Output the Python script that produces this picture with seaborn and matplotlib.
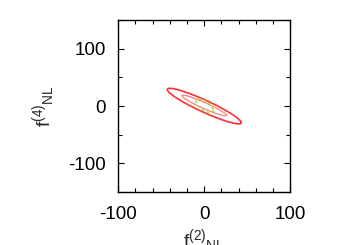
import numpy as np
import pandas as pd
import matplotlib
matplotlib.use("Agg")
import matplotlib.pyplot as plt
import seaborn as sns
from matplotlib.ticker import MultipleLocator

# Contour data: centre, 1-D extents and correlation of each confidence ellipse
contours = ["outer", "middle", "inner"]
center_x = [0.0, 0.0, 0.4]
center_y = [0.0, 1.0, 0.5]
extent_x = [43.0, 26.0, 10.0]
extent_y = [31.0, 18.0, 12.0]
corr = [-0.93, -0.95, -0.65]

xticks = [-100, 0, 100]
yticks = [-100, 0, 100]
xlabel = r"f$^{(2)}{}_{NL}$"
ylabel = r"f$^{(4)}{}_{NL}$"

sns.set_theme(style="ticks")
plt.rcParams["font.family"] = ["Liberation Sans", "DejaVu Sans"]
plt.rcParams["mathtext.default"] = "regular"
plt.rcParams["axes.unicode_minus"] = False

t = np.linspace(0, 2 * np.pi, 400)
frames = []
for name, cx, cy, sx, sy, r in zip(contours, center_x, center_y, extent_x, extent_y, corr):
    frames.append(pd.DataFrame({
        "x": cx + sx * np.cos(t),
        "y": cy + sy * (r * np.cos(t) + np.sqrt(1 - r * r) * np.sin(t)),
        "contour": name,
        "order": np.arange(len(t)),
    }))
df = pd.concat(frames, ignore_index=True)

fig = plt.figure(figsize=(3.5, 2.45), dpi=100)
ax = fig.add_axes([0.338, 0.216, 0.491, 0.702])

styles = {
    "outer": dict(color="#ff3030", lw=1.2, ls="-"),
    "middle": dict(color="#ff8080", lw=0.9, ls="-"),
    "inner": dict(color="#90e840", lw=1.0, ls=(0, (2.5, 1.5))),
}
for name in contours:
    sub = df[df["contour"] == name]
    st = styles[name]
    sns.lineplot(data=sub, x="x", y="y", sort=False, estimator=None, ax=ax,
                 color=st["color"], linewidth=st["lw"], linestyle=st["ls"])

ax.set_xlim(-100, 100)
ax.set_ylim(-150, 150)
ax.set_xticks(xticks)
ax.set_yticks(yticks)
ax.xaxis.set_minor_locator(MultipleLocator(20))
ax.yaxis.set_minor_locator(MultipleLocator(50))
ax.tick_params(which="both", direction="in", top=True, right=True,
               labelsize=13.5, colors="black")
ax.tick_params(which="major", length=4, width=0.8, pad=9)
ax.tick_params(which="minor", length=3, width=0.8)
ax.tick_params(axis="x", which="major", pad=10)
for s in ax.spines.values():
    s.set_color("black")
    s.set_linewidth(1.0)

ax.set_xlabel(xlabel, fontsize=14, labelpad=3)
ax.set_ylabel(ylabel, fontsize=14, labelpad=8)

fig.savefig("out.png", dpi=100)
